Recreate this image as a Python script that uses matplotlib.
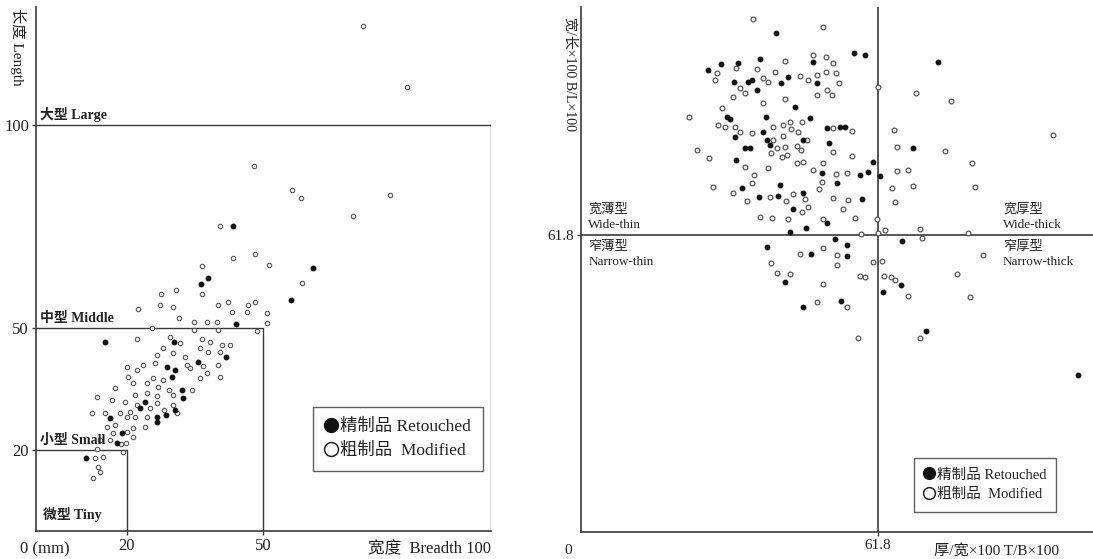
import matplotlib
matplotlib.use("Agg")
import matplotlib.pyplot as plt
from matplotlib.lines import Line2D

plt.rcParams["font.family"] = ["Liberation Serif", "Noto Sans CJK SC", "DejaVu Sans"]

# ---- left panel: breadth (x) vs length (y), mm ----
retouched_breadth = [43.3, 60.9, 37.8, 36.3, 56.0, 44.0, 15.2, 30.3, 41.8, 35.6,
                     28.8, 30.5, 29.9, 32.1, 32.3, 24.0, 22.9, 30.5, 26.6, 28.6,
                     16.3, 26.6, 18.9, 17.8, 11.0]
retouched_length = [75.1, 64.8, 62.3, 60.8, 56.9, 51.0, 46.6, 46.6, 42.9, 41.6,
                    40.4, 39.7, 37.9, 34.7, 32.8, 31.8, 30.3, 29.8, 28.1, 28.6,
                    27.8, 26.8, 24.1, 21.7, 18.0]

modified_breadth = [71.9, 81.5, 47.9, 56.3, 58.2, 77.8, 69.7, 40.4, 43.3, 48.1,
                    36.5, 51.2, 30.8, 27.5, 36.5, 27.3, 30.1, 22.4, 58.5, 40.0,
                    42.2, 46.6, 48.1, 43.1, 46.4, 50.8, 31.4, 34.7, 37.6, 39.8,
                    50.8, 40.0, 34.7, 48.6, 25.5, 22.2, 29.5, 31.6, 36.5, 38.2,
                    40.9, 42.6, 36.0, 37.8, 40.4, 27.9, 26.6, 30.1, 32.7, 33.2,
                    36.7, 26.2, 23.5, 20.0, 22.2, 33.8, 37.6, 40.0, 40.4, 36.0,
                    27.9, 25.7, 20.2, 17.4, 21.3, 24.4, 26.8, 29.2, 34.3, 24.4,
                    26.6, 30.1, 21.8, 13.4, 16.7, 19.6, 26.6, 30.1, 22.2, 25.1,
                    28.1, 20.7, 18.5, 12.3, 15.2, 24.4, 31.0, 20.0, 21.8, 17.4,
                    15.6, 21.3, 24.0, 20.0, 16.9, 21.3, 16.3, 18.7, 19.8, 14.1,
                    13.4, 19.1, 13.0, 14.7, 13.6, 14.1, 12.5]
modified_length = [124.4, 109.4, 89.9, 84.0, 82.0, 82.8, 77.6, 75.1, 67.2, 68.2,
                   65.3, 65.5, 59.4, 58.4, 58.4, 55.7, 55.2, 54.7, 61.1, 55.7,
                   56.4, 55.7, 56.4, 53.9, 53.9, 53.7, 52.5, 51.5, 51.5, 51.5,
                   51.2, 49.5, 49.5, 49.3, 50.0, 47.3, 47.8, 46.3, 47.3, 46.6,
                   45.8, 45.8, 45.1, 44.1, 44.1, 45.1, 43.3, 43.8, 42.9, 40.9,
                   40.6, 41.4, 40.9, 40.4, 39.7, 40.1, 38.9, 40.9, 37.9, 37.7,
                   37.2, 37.7, 37.9, 35.2, 36.5, 36.5, 35.5, 34.7, 34.7, 34.0,
                   33.3, 33.5, 33.5, 33.0, 32.3, 31.8, 31.5, 31.0, 31.0, 30.3,
                   29.8, 29.3, 29.1, 29.1, 29.1, 28.1, 29.1, 28.1, 28.1, 26.1,
                   25.6, 25.4, 25.6, 24.4, 24.1, 23.2, 22.4, 21.4, 21.7, 22.4,
                   20.2, 19.5, 18.0, 18.2, 15.8, 14.5, 13.1]

size_limits = [20, 50, 100]
size_names = ["小型 Small", "中型 Middle", "大型 Large"]

# ---- right panel: T/B*100 (x) vs B/L*100 (y) ----
retouched_tb = [40.6, 56.8, 59.1, 74.3, 48.3, 37.3, 29.1, 26.4, 32.7, 43.1,
                31.8, 34.8, 35.6, 41.6, 49.1, 36.6, 44.5, 30.4, 31.0, 38.5,
                47.7, 37.9, 32.0, 51.2, 53.9, 54.9, 38.7, 39.3, 46.2, 34.1,
                35.2, 51.6, 69.1, 32.3, 50.2, 58.1, 59.7, 60.8, 62.2, 33.5,
                37.0, 41.0, 41.4, 46.2, 53.3, 58.5, 44.1, 51.2, 46.8, 43.5,
                66.8, 52.9, 55.4, 38.7, 47.9, 55.4, 42.5, 46.2, 54.1, 62.8,
                66.6, 71.8, 103.4]
retouched_bl = [103.8, 99.7, 99.3, 97.8, 97.8, 98.4, 97.4, 96.1, 97.6, 94.7,
                93.6, 93.6, 94.1, 93.4, 93.4, 92.0, 88.4, 86.4, 85.9, 86.4,
                86.2, 83.2, 82.2, 84.1, 84.3, 84.3, 81.6, 80.5, 81.6, 79.9,
                79.9, 81.0, 79.9, 77.4, 74.7, 74.3, 74.9, 77.0, 74.1, 71.6,
                69.7, 69.9, 72.2, 70.5, 72.6, 69.3, 67.2, 64.3, 63.3, 62.4,
                60.6, 61.0, 59.7, 59.3, 57.9, 57.4, 52.0, 46.8, 48.1, 49.9,
                51.4, 41.8, 32.7]

modified_tb = [35.8, 50.4, 48.3, 51.0, 52.4, 42.5, 28.3, 32.3, 36.6, 40.4,
               45.6, 47.2, 49.1, 51.0, 53.1, 27.9, 37.9, 38.9, 53.7, 33.1,
               34.1, 31.6, 49.1, 51.2, 52.2, 42.5, 61.8, 69.7, 77.0, 37.9,
               29.3, 28.5, 30.0, 32.0, 40.0, 42.0, 43.5, 46.0, 22.5, 35.6,
               33.1, 42.0, 43.7, 45.2, 52.4, 56.4, 40.0, 47.0, 45.0, 40.8,
               42.5, 45.8, 52.4, 65.1, 65.8, 75.7, 24.1, 26.6, 34.1, 36.0,
               39.5, 41.8, 42.9, 38.9, 45.0, 46.2, 48.3, 50.4, 53.1, 55.4,
               56.4, 65.8, 68.0, 81.4, 27.5, 31.6, 35.6, 39.3, 42.7, 44.1,
               46.6, 49.5, 50.2, 52.4, 55.6, 34.5, 37.3, 39.7, 43.1, 46.0,
               47.2, 50.4, 54.5, 57.0, 64.7, 65.3, 69.1, 82.0, 58.3, 61.6,
               61.8, 63.3, 70.5, 80.5, 71.0, 45.6, 50.4, 53.3, 39.5, 53.3,
               60.8, 83.7, 78.2, 63.1, 58.1, 40.8, 43.5, 50.4, 49.1, 55.4,
               57.6, 59.1, 64.5, 65.3, 68.0, 81.0, 70.5, 98.2, 62.6]
modified_bl = [106.8, 105.1, 99.3, 98.8, 97.6, 98.0, 95.5, 96.6, 96.4, 95.7,
               94.9, 94.1, 95.1, 95.7, 95.5, 94.1, 94.5, 93.6, 93.4, 92.4,
               91.4, 90.5, 90.9, 92.0, 90.9, 90.1, 92.6, 91.4, 89.7, 89.3,
               88.2, 84.7, 84.3, 84.3, 84.3, 84.7, 85.3, 85.3, 86.4, 83.0,
               83.2, 82.4, 83.9, 83.2, 84.1, 83.4, 81.6, 81.6, 80.3, 79.9,
               80.1, 79.5, 79.1, 83.7, 80.1, 79.3, 79.5, 77.8, 76.0, 74.3,
               78.9, 78.0, 78.5, 75.7, 76.8, 77.0, 75.3, 76.8, 74.5, 74.7,
               78.2, 75.1, 75.3, 76.8, 71.8, 70.5, 72.6, 69.7, 68.9, 70.3,
               69.3, 71.4, 72.8, 69.5, 69.1, 68.9, 65.6, 65.3, 65.1, 66.6,
               67.6, 65.1, 67.2, 65.3, 71.6, 68.7, 72.0, 71.8, 62.0, 65.1,
               62.2, 62.8, 63.1, 62.2, 61.2, 57.9, 59.1, 57.6, 56.0, 55.6,
               56.2, 57.6, 53.7, 53.3, 53.3, 53.9, 53.7, 51.6, 47.9, 46.8,
               40.4, 53.1, 53.1, 52.4, 49.1, 48.9, 40.4, 82.6, 56.4]

golden = 61.8
legend_labels = ["精制品 Retouched", "粗制品  Modified"]

line_col = "#3a3a3a"
text_col = "#222222"


def add_legend(ax, x, y, fontsize, ms):
    handles = [
        Line2D([], [], marker="o", ls="none", color="#111111", ms=ms),
        Line2D([], [], marker="o", ls="none", mfc="white", mec="#222222",
               mew=1.1, ms=ms),
    ]
    leg = ax.legend(handles, legend_labels, loc="center",
                    bbox_to_anchor=(x, y), bbox_transform=ax.transData,
                    fontsize=fontsize, frameon=True, fancybox=False,
                    edgecolor=line_col, handlelength=0.7, handletextpad=0.15,
                    borderpad=0.7, labelspacing=0.45, borderaxespad=0)
    leg.get_frame().set_linewidth(1.0)
    for t in leg.get_texts():
        t.set_color(text_col)
    return leg


fig = plt.figure(figsize=(10.93, 5.59), dpi=100)

# ================= left panel =================
ax1 = fig.add_axes([0.0329, 0.0501, 0.4163, 0.9374])
ax1.set_xlim(0, 100)
ax1.set_ylim(0, 129)
for s in ["top", "right"]:
    ax1.spines[s].set_visible(False)
for s in ["left", "bottom"]:
    ax1.spines[s].set_color(line_col)
    ax1.spines[s].set_linewidth(1.2)

# nested size boxes
for lim in size_limits:
    ax1.plot([0, lim, lim], [lim, lim, 0], color=line_col, lw=1.0)

ax1.plot(modified_breadth, modified_length, "o", ms=3.2, mfc="white",
         mec="#555555", mew=0.8, ls="none")
ax1.plot(retouched_breadth, retouched_length, "o", ms=3.2, color="#111111",
         ls="none")

ax1.set_yticks(size_limits)
ax1.set_yticklabels([str(v) for v in size_limits], fontsize=12, color=text_col)
ax1.set_xticks([20, 50])
ax1.set_xticklabels(["20", "50"], fontsize=12, color=text_col)
ax1.tick_params(axis="both", length=3, width=1, color=line_col, pad=2)

ax1.text(-3.5, -2.5, "0 (mm)", fontsize=12, color=text_col, ha="left", va="top")
ax1.text(100, -2.5, "宽度  Breadth 100", fontsize=12, color=text_col,
         ha="right", va="top")

for lim, name in zip(size_limits, size_names):
    ax1.text(0.8, lim + 0.6, name, fontsize=10, color=text_col,
             ha="left", va="bottom", fontweight="bold")
ax1.text(1.5, 2.2, "微型 Tiny", fontsize=10, color=text_col, ha="left",
         va="bottom", fontweight="bold")

add_legend(ax1, 79.6, 22.7, fontsize=12.5, ms=10)

fig.text(0.0165, 0.985, "长度 Length", rotation=270, fontsize=11,
         color=text_col, ha="center", va="top")

# ================= right panel =================
ax2 = fig.add_axes([0.5316, 0.0483, 0.4684, 0.9392])
ax2.set_xlim(0, 106.5)
ax2.set_ylim(0, 109.2)
for s in ["top", "right"]:
    ax2.spines[s].set_visible(False)
for s in ["left", "bottom"]:
    ax2.spines[s].set_color(line_col)
    ax2.spines[s].set_linewidth(1.2)

ax2.axvline(golden, color=line_col, lw=1.2)
ax2.axhline(golden, color=line_col, lw=1.2)

ax2.plot(modified_tb, modified_bl, "o", ms=3.4, mfc="white",
         mec="#555555", mew=0.9, ls="none")
ax2.plot(retouched_tb, retouched_bl, "o", ms=3.2, color="#111111", ls="none")

ax2.set_yticks([golden])
ax2.set_yticklabels(["61.8"], fontsize=11, color=text_col)
ax2.set_xticks([golden])
ax2.set_xticklabels(["61.8"], fontsize=11, color=text_col)
ax2.tick_params(axis="both", length=3, width=1, color=line_col, pad=2)

ax2.text(-2.7, -2.5, "0", fontsize=11, color=text_col, ha="center", va="top")
ax2.text(99.5, -2.5, "厚/宽×100 T/B×100", fontsize=11, color=text_col,
         ha="right", va="top")

quad_labels = [(1.5, "宽薄型\nWide-thin", "top"),
               (1.5, "窄薄型\nNarrow-thin", "bottom"),
               (87.8, "宽厚型\nWide-thick", "top"),
               (87.8, "窄厚型\nNarrow-thick", "bottom")]
for qx, label, side in quad_labels:
    qy = golden + 0.9 if side == "top" else golden - 1.2
    ax2.text(qx, qy, label, fontsize=9.5, color=text_col, ha="left",
             va="bottom" if side == "top" else "top", linespacing=1.3)

add_legend(ax2, 84.1, 9.8, fontsize=10.5, ms=8.5)

fig.text(0.5215, 0.97, "宽/长×100 B/L×100", rotation=270, fontsize=10,
         color=text_col, ha="center", va="top")

fig.savefig("out.png", dpi=100)
